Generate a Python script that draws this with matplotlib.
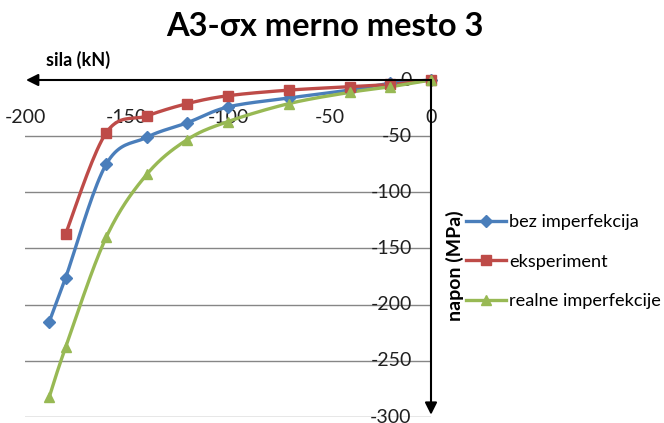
import numpy as np
import matplotlib
matplotlib.use('Agg')
import matplotlib.pyplot as plt
from matplotlib.lines import Line2D

plt.rcParams['font.family'] = ['Lato', 'DejaVu Sans']

# ============================================================================
# DATA
# ============================================================================

x_ticks = [-200, -150, -100, -50, 0]
y_ticks = [0, -50, -100, -150, -200, -250, -300]

bez_x = [-188, -180, -160, -140, -120, -100, -70, -40, -20, 0]
bez_y = [-215, -176, -75, -51, -38, -24, -16, -9, -3, 0]

eksp_x = [-180, -160, -140, -120, -100, -70, -40, -20, 0]
eksp_y = [-137, -47, -32, -21, -14, -9, -6, -4, 0]

real_x = [-188, -180, -160, -140, -120, -100, -70, -40, -20, 0]
real_y = [-282, -238, -140, -84, -53, -37, -21, -11, -6, 0]

labels = ['bez imperfekcija', 'eksperiment', 'realne imperfekcije']
colors = ['#4A7EBB', '#BE4B48', '#98B954']
markers = ['D', 's', '^']
msizes = [6, 7.5, 7.5]


def smooth(xs, ys, sx=2.03, sy=1.126, n=20):
    """Catmull-Rom curve through the points (like Excel smoothed lines)."""
    p = np.column_stack([np.asarray(xs, float) * sx, np.asarray(ys, float) * sy])
    p = np.vstack([p[0], p, p[-1]])
    out = []
    t = np.linspace(0, 1, n)[:, None]
    for i in range(1, len(p) - 2):
        p0, p1, p2, p3 = p[i - 1], p[i], p[i + 1], p[i + 2]
        seg = 0.5 * ((2 * p1) + (-p0 + p2) * t +
                     (2 * p0 - 5 * p1 + 4 * p2 - p3) * t ** 2 +
                     (-p0 + 3 * p1 - 3 * p2 + p3) * t ** 3)
        out.append(seg)
    out = np.vstack(out)
    return out[:, 0] / sx, out[:, 1] / sy


fig = plt.figure(figsize=(6.64, 4.23), dpi=100)
ax = fig.add_axes([25 / 664, 1 - 417 / 423, 406 / 664, 337 / 423])
ax.set_xlim(-200, 0)
ax.set_ylim(-300, 0)
for s in ax.spines.values():
    s.set_visible(False)
ax.set_xticks([])
ax.set_yticks([])

# horizontal gridlines
for yv in y_ticks[1:]:
    ax.axhline(yv, color='#868686', lw=1, zorder=1)

series = [(bez_x, bez_y), (eksp_x, eksp_y), (real_x, real_y)]
handles = []
for (xs, ys), c, m, ms, lab in zip(series, colors, markers, msizes, labels):
    sxv, syv = smooth(xs, ys)
    ax.plot(sxv, syv, color=c, lw=2.4, zorder=3, clip_on=False)
    ax.plot(xs, ys, ls='none', marker=m, color=c, ms=ms, zorder=4, clip_on=False)
    handles.append(Line2D([], [], color=c, lw=2.4, marker=m, ms=ms, label=lab))

# axes with arrows
ax.annotate('', xy=(-199.5, 0), xytext=(0, 0),
            arrowprops=dict(arrowstyle='-|>', color='black', lw=1.5,
                            mutation_scale=18, shrinkA=0, shrinkB=0),
            annotation_clip=False, zorder=5)
ax.annotate('', xy=(0, -298), xytext=(0, 0),
            arrowprops=dict(arrowstyle='-|>', color='black', lw=1.5,
                            mutation_scale=18, shrinkA=0, shrinkB=0),
            annotation_clip=False, zorder=5)

# tick labels
for xv in x_ticks:
    ax.text(xv, -33, str(xv), ha='center', va='center', fontsize=14,
            color='#202020', zorder=2)
for yv in y_ticks:
    ax.text(-9.5, yv, str(yv), ha='right', va='center', fontsize=14,
            color='#202020', zorder=2)

fig.text(325 / 664, 1 - 27 / 423, 'A3-σx merno mesto 3', ha='center', va='center',
         fontsize=23.5, fontweight='bold')
fig.text(78 / 664, 1 - 60 / 423, 'sila (kN)', ha='center', va='center',
         fontsize=13, fontweight='bold')
fig.text(455 / 664, 1 - 266 / 423, 'napon (MPa)', ha='center', va='center',
         fontsize=14, fontweight='bold', rotation=90)

fig.legend(handles=handles, loc='upper left', bbox_to_anchor=(466 / 664, 1 - 214 / 423),
           frameon=False, fontsize=13.1, handlelength=2.2, handletextpad=0.15,
           labelspacing=1.3, borderaxespad=0, borderpad=0)

fig.savefig('out.png', dpi=100)
